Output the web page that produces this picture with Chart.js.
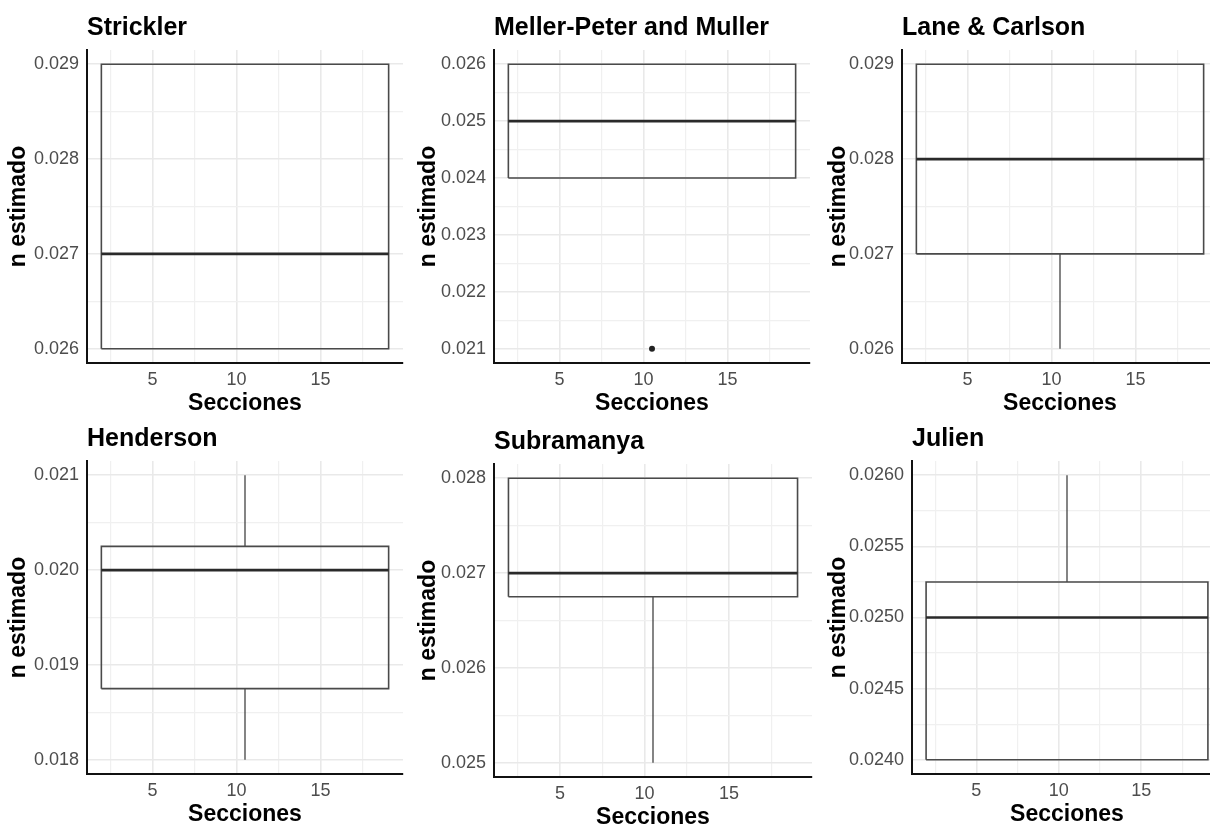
<!DOCTYPE html>
<html>
<head>
<meta charset="utf-8">
<script src="https://cdn.jsdelivr.net/npm/chart.js@4.4.0/dist/chart.umd.min.js"></script>
<style>
  html, body { margin: 0; padding: 0; background: #fff; overflow: hidden; width: 1210px; height: 829px; }
  canvas { position: absolute; }
</style>
</head>
<body>
<script>
// Boxplots of n estimado per method (ggplot style)
const panelTitles = ['Strickler', 'Meller-Peter and Muller', 'Lane & Carlson', 'Henderson', 'Subramanya', 'Julien'];
const seccionesRange = [1, 20];
const q1 = [0.026, 0.024, 0.027, 0.01875, 0.02675, 0.024];
const medians = [0.027, 0.025, 0.028, 0.020, 0.027, 0.025];
const q3 = [0.029, 0.026, 0.029, 0.02025, 0.028, 0.02525];
const whiskerLow = [0.026, 0.024, 0.026, 0.018, 0.025, 0.024];
const whiskerHigh = [0.029, 0.026, 0.029, 0.021, 0.028, 0.026];
const outliers = [[], [0.021], [], [], [], []];

const xTickLabels = ['5', '10', '15'];
const yTickLabels = [
  ['0.026', '0.027', '0.028', '0.029'],
  ['0.021', '0.022', '0.023', '0.024', '0.025', '0.026'],
  ['0.026', '0.027', '0.028', '0.029'],
  ['0.018', '0.019', '0.020', '0.021'],
  ['0.025', '0.026', '0.027', '0.028'],
  ['0.0240', '0.0245', '0.0250', '0.0255', '0.0260']
];

// where each panel canvas sits on the page
const panelBoxes = [
  { left: 0,   top: 0,   width: 410, yW: 87, padR: 7 },
  { left: 410, top: 0,   width: 410, yW: 84, padR: 10 },
  { left: 820, top: 0,   width: 400, yW: 82, padR: 2 },
  { left: 0,   top: 411, width: 410, yW: 87, padR: 7 },
  { left: 410, top: 414, width: 410, yW: 84, padR: 8 },
  { left: 820, top: 411, width: 410, yW: 92, padR: 8 }
];

const FONT = "'Liberation Sans', Arial, sans-serif";
Chart.defaults.font.family = FONT;
Chart.defaults.animation = false;

// major ticks from labels + minor ticks halfway between them
function withMinor(labels, lo, hi) {
  const vals = labels.map(Number);
  const step = vals[1] - vals[0];
  const out = [];
  vals.forEach((v, k) => {
    if (v - step / 2 >= lo) out.push({ value: v - step / 2, minor: true, text: '' });
    out.push({ value: v, minor: false, text: labels[k] });
  });
  const last = vals[vals.length - 1] + step / 2;
  if (last <= hi) out.push({ value: last, minor: true, text: '' });
  return out;
}

const gridColor = ctx => (ctx.tick && ctx.tick.minor) ? '#f0f0f0' : '#e9e9e9';
const gridWidth = ctx => (ctx.tick && ctx.tick.minor) ? 1.2 : 1.6;

panelTitles.forEach((title, i) => {
  const pb = panelBoxes[i];
  const canvas = document.createElement('canvas');
  canvas.width = pb.width;
  canvas.height = 420;
  canvas.style.left = pb.left + 'px';
  canvas.style.top = pb.top + 'px';
  document.body.appendChild(canvas);

  // box spans 90% of the section range, centred on it
  const xc = (seccionesRange[0] + seccionesRange[1]) / 2;
  const half = 0.45 * (seccionesRange[1] - seccionesRange[0]);
  const xl = xc - half, xr = xc + half;
  const xMin = xl - (xr - xl) * 0.05, xMax = xr + (xr - xl) * 0.05;

  const lowAll = Math.min(whiskerLow[i], ...outliers[i]);
  const highAll = Math.max(whiskerHigh[i], ...outliers[i]);
  const yMin = lowAll - (highAll - lowAll) * 0.05;
  const yMax = highAll + (highAll - lowAll) * 0.05;

  const line = { showLine: true, pointRadius: 0, fill: false, borderJoinStyle: 'miter', tension: 0 };
  const datasets = [];
  datasets.push({ ...line, data: [{ x: xl, y: medians[i] }, { x: xr, y: medians[i] }], borderColor: '#2a2a2a', borderWidth: 2.6 });
  datasets.push({ ...line, data: [
    { x: xl, y: q1[i] }, { x: xr, y: q1[i] }, { x: xr, y: q3[i] }, { x: xl, y: q3[i] }, { x: xl, y: q1[i] }
  ], borderColor: '#4a4a4a', borderWidth: 1.6 });
  if (whiskerHigh[i] > q3[i]) {
    datasets.push({ ...line, data: [{ x: xc, y: q3[i] }, { x: xc, y: whiskerHigh[i] }], borderColor: '#333', borderWidth: 1.2 });
  }
  if (whiskerLow[i] < q1[i]) {
    datasets.push({ ...line, data: [{ x: xc, y: whiskerLow[i] }, { x: xc, y: q1[i] }], borderColor: '#333', borderWidth: 1.2 });
  }
  if (outliers[i].length) {
    datasets.push({ data: outliers[i].map(v => ({ x: xc, y: v })), pointRadius: 3, backgroundColor: '#222', borderWidth: 0, showLine: false });
  }

  new Chart(canvas, {
    type: 'scatter',
    data: { datasets },
    options: {
      responsive: false,
      layout: { padding: { left: 0, top: 0, right: pb.padR, bottom: 0 } },
      plugins: {
        legend: { display: false },
        tooltip: { enabled: false },
        title: {
          display: true, text: title, align: 'start', fullSize: false,
          color: '#000', font: { size: 25, weight: 'bold' },
          padding: { top: 13, bottom: 7 }
        }
      },
      scales: {
        x: {
          type: 'linear', min: xMin, max: xMax, bounds: 'data',
          afterBuildTicks: s => { s.ticks = withMinor(xTickLabels, xMin, xMax); },
          afterFit: s => { s.height = 57; },
          ticks: {
            autoSkip: false, maxRotation: 0, padding: 6, color: '#4d4d4d', font: { size: 18 },
            callback: (v, k, ticks) => ticks[k].text
          },
          grid: { color: gridColor, lineWidth: gridWidth, drawTicks: false },
          border: { display: true, color: '#111', width: 2 },
          title: { display: true, text: 'Secciones', color: '#000', font: { size: 23, weight: 'bold' }, padding: { top: 0, bottom: 3 } }
        },
        y: {
          type: 'linear', min: yMin, max: yMax, bounds: 'data',
          afterBuildTicks: s => { s.ticks = withMinor(yTickLabels[i], yMin, yMax); },
          afterFit: s => { s.width = pb.yW; },
          ticks: {
            autoSkip: false, padding: 8, color: '#4d4d4d', font: { size: 18 },
            callback: (v, k, ticks) => ticks[k].text
          },
          grid: { color: gridColor, lineWidth: gridWidth, drawTicks: false },
          border: { display: true, color: '#111', width: 2 },
          title: { display: true, text: 'n estimado', color: '#000', font: { size: 23, weight: 'bold' }, padding: { top: 5, bottom: 0 } }
        }
      }
    }
  });
});
</script>
</body>
</html>
